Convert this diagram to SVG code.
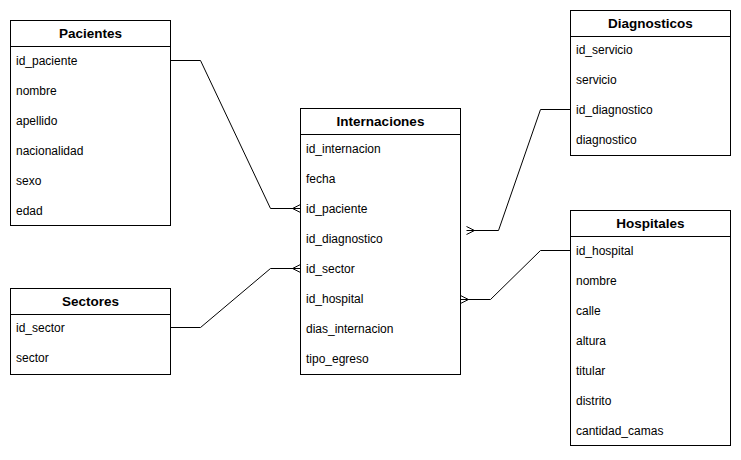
<svg xmlns="http://www.w3.org/2000/svg" width="741" height="460" viewBox="0 0 741 460">
  <style>
    .box { fill: #ffffff; stroke: #000000; stroke-width: 1; }
    .sep { stroke: #000000; stroke-width: 1; }
    .title { font-family: "Liberation Sans", Arial, sans-serif; font-size: 13.5px; font-weight: bold; text-anchor: middle; fill: #000000; }
    .field { font-family: "Liberation Sans", Arial, sans-serif; font-size: 12px; fill: #000000; }
    .edge { fill: none; stroke: #000000; stroke-width: 1; }
  </style>
  <rect width="741" height="460" fill="#ffffff"/>

  <!-- relationships -->
  <g id="connectors">
    <!-- Pacientes.id_paciente to Internaciones -->
    <path class="edge" d="M170.5 60.5 H200.5 L270.5 208.5 H300.5"/>
    <path class="edge" d="M300.5 204.5 L292.5 208.5 L300.5 212.5"/>
    <!-- Sectores.id_sector to Internaciones -->
    <path class="edge" d="M170.5 327.5 H200.5 L270.5 268.5 H300.5"/>
    <path class="edge" d="M300.5 264.5 L292.5 268.5 L300.5 272.5"/>
    <!-- Diagnosticos.id_diagnostico to Internaciones -->
    <path class="edge" d="M570.5 109.5 H540.5 L498.5 230.5 H466.5"/>
    <path class="edge" d="M466.5 226.5 L474.5 230.5 L466.5 234.5"/>
    <!-- Hospitales.id_hospital to Internaciones -->
    <path class="edge" d="M570.5 250.5 H540.5 L490.5 299.5 H460.5"/>
    <path class="edge" d="M460.5 295.5 L468.5 299.5 L460.5 303.5"/>
  </g>

  <g id="pacientes">
    <rect class="box" x="10.5" y="20.5" width="160" height="205"/>
    <line class="sep" x1="10.5" y1="46.5" x2="170.5" y2="46.5"/>
    <text class="title" x="90.5" y="38">Pacientes</text>
    <text class="field" x="16" y="65">id_paciente</text>
    <text class="field" x="16" y="95">nombre</text>
    <text class="field" x="16" y="125">apellido</text>
    <text class="field" x="16" y="155">nacionalidad</text>
    <text class="field" x="16" y="185">sexo</text>
    <text class="field" x="16" y="215">edad</text>
  </g>

  <g id="sectores">
    <rect class="box" x="10.5" y="288.5" width="160" height="86"/>
    <line class="sep" x1="10.5" y1="314.5" x2="170.5" y2="314.5"/>
    <text class="title" x="90.5" y="306">Sectores</text>
    <text class="field" x="16" y="332">id_sector</text>
    <text class="field" x="16" y="362">sector</text>
  </g>

  <g id="internaciones">
    <rect class="box" x="300.5" y="108.5" width="160" height="266"/>
    <line class="sep" x1="300.5" y1="134.5" x2="460.5" y2="134.5"/>
    <text class="title" x="380.5" y="126">Internaciones</text>
    <text class="field" x="306" y="153">id_internacion</text>
    <text class="field" x="306" y="183">fecha</text>
    <text class="field" x="306" y="213">id_paciente</text>
    <text class="field" x="306" y="243">id_diagnostico</text>
    <text class="field" x="306" y="273">id_sector</text>
    <text class="field" x="306" y="303">id_hospital</text>
    <text class="field" x="306" y="333">dias_internacion</text>
    <text class="field" x="306" y="363">tipo_egreso</text>
  </g>

  <g id="diagnosticos">
    <rect class="box" x="570.5" y="10.5" width="160" height="145"/>
    <line class="sep" x1="570.5" y1="36.5" x2="730.5" y2="36.5"/>
    <text class="title" x="650.5" y="28">Diagnosticos</text>
    <text class="field" x="576" y="54">id_servicio</text>
    <text class="field" x="576" y="84">servicio</text>
    <text class="field" x="576" y="114">id_diagnostico</text>
    <text class="field" x="576" y="144">diagnostico</text>
  </g>

  <g id="hospitales">
    <rect class="box" x="570.5" y="210.5" width="160" height="235"/>
    <line class="sep" x1="570.5" y1="236.5" x2="730.5" y2="236.5"/>
    <text class="title" x="650.5" y="228">Hospitales</text>
    <text class="field" x="576" y="255">id_hospital</text>
    <text class="field" x="576" y="285">nombre</text>
    <text class="field" x="576" y="315">calle</text>
    <text class="field" x="576" y="345">altura</text>
    <text class="field" x="576" y="375">titular</text>
    <text class="field" x="576" y="405">distrito</text>
    <text class="field" x="576" y="435">cantidad_camas</text>
  </g>
</svg>
